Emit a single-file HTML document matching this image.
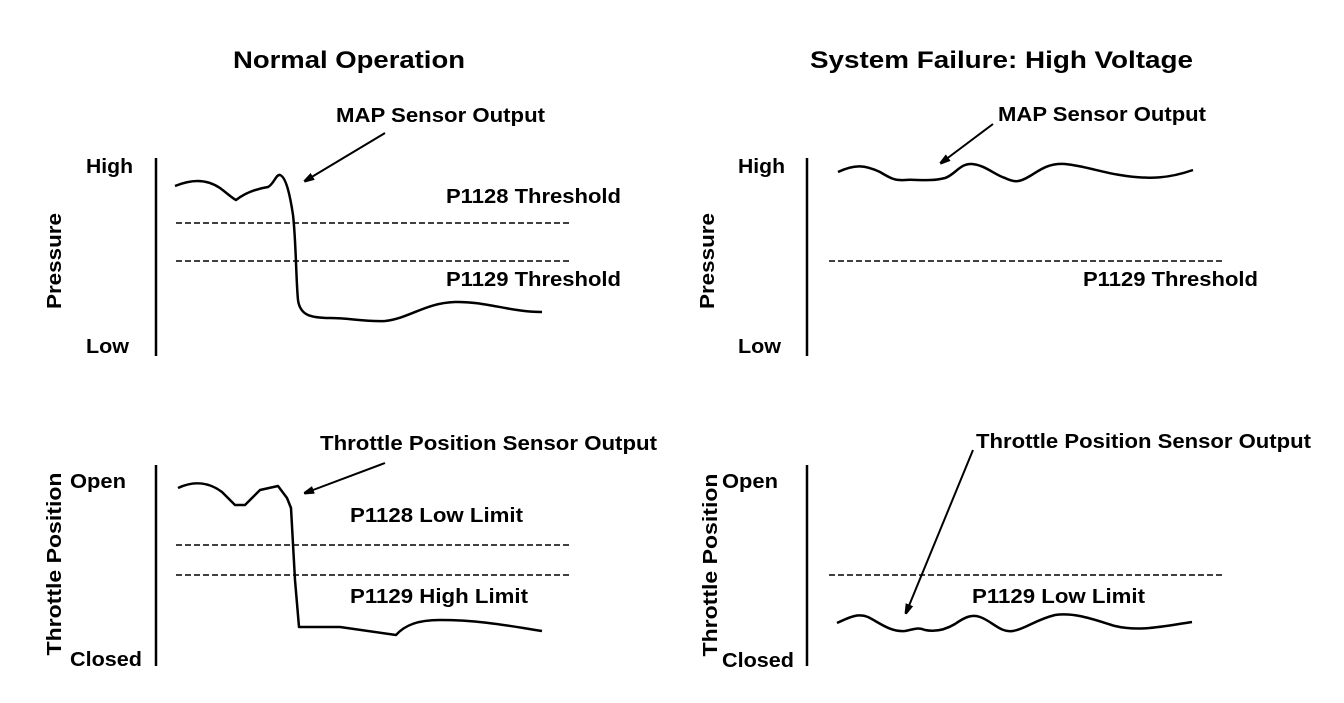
<!DOCTYPE html>
<html><head><meta charset="utf-8"><style>
html,body{margin:0;padding:0;background:#fff;}
svg text{font-family:"Liberation Sans",Arial,sans-serif;font-weight:bold;fill:#000;}
</style></head><body>
<svg width="1344" height="698" viewBox="0 0 1344 698" xmlns="http://www.w3.org/2000/svg">
<defs><marker id="ah" markerWidth="10" markerHeight="8" refX="9" refY="4" orient="auto" markerUnits="userSpaceOnUse"><path d="M0,0 L14,4 L0,8 Z" fill="#000"/></marker></defs>
<g font-size="24">
<text x="233" y="68" textLength="232" lengthAdjust="spacingAndGlyphs">Normal Operation</text>
<text x="810" y="68" textLength="383" lengthAdjust="spacingAndGlyphs">System Failure: High Voltage</text>
</g>
<g font-size="20">
<text x="86" y="173" textLength="47" lengthAdjust="spacingAndGlyphs">High</text>
<text x="86" y="353" textLength="43" lengthAdjust="spacingAndGlyphs">Low</text>
<text x="738" y="173" textLength="47" lengthAdjust="spacingAndGlyphs">High</text>
<text x="738" y="353" textLength="43" lengthAdjust="spacingAndGlyphs">Low</text>
<text x="70" y="488" textLength="56" lengthAdjust="spacingAndGlyphs">Open</text>
<text x="70" y="666" textLength="72" lengthAdjust="spacingAndGlyphs">Closed</text>
<text x="722" y="488" textLength="56" lengthAdjust="spacingAndGlyphs">Open</text>
<text x="722" y="667" textLength="72" lengthAdjust="spacingAndGlyphs">Closed</text>
<text x="336" y="122" textLength="209" lengthAdjust="spacingAndGlyphs">MAP Sensor Output</text>
<text x="998" y="121" textLength="208" lengthAdjust="spacingAndGlyphs">MAP Sensor Output</text>
<text x="320" y="450" textLength="337" lengthAdjust="spacingAndGlyphs">Throttle Position Sensor Output</text>
<text x="976" y="448" textLength="335" lengthAdjust="spacingAndGlyphs">Throttle Position Sensor Output</text>
<text x="446" y="203" textLength="175" lengthAdjust="spacingAndGlyphs">P1128 Threshold</text>
<text x="446" y="286" textLength="175" lengthAdjust="spacingAndGlyphs">P1129 Threshold</text>
<text x="1083" y="286" textLength="175" lengthAdjust="spacingAndGlyphs">P1129 Threshold</text>
<text x="350" y="522" textLength="173" lengthAdjust="spacingAndGlyphs">P1128 Low Limit</text>
<text x="350" y="603" textLength="178" lengthAdjust="spacingAndGlyphs">P1129 High Limit</text>
<text x="972" y="603" textLength="173" lengthAdjust="spacingAndGlyphs">P1129 Low Limit</text>
<text transform="translate(61,261) rotate(-90)" text-anchor="middle" textLength="96" lengthAdjust="spacingAndGlyphs">Pressure</text>
<text transform="translate(714,261) rotate(-90)" text-anchor="middle" textLength="96" lengthAdjust="spacingAndGlyphs">Pressure</text>
<text transform="translate(61,564) rotate(-90)" text-anchor="middle" textLength="183" lengthAdjust="spacingAndGlyphs">Throttle Position</text>
<text transform="translate(717,565) rotate(-90)" text-anchor="middle" textLength="183" lengthAdjust="spacingAndGlyphs">Throttle Position</text>
</g>
<g stroke="#000" stroke-width="2.5" fill="none">
<line x1="156" y1="158" x2="156" y2="356"/>
<line x1="807" y1="158" x2="807" y2="356"/>
<line x1="156" y1="465" x2="156" y2="666"/>
<line x1="807" y1="465" x2="807" y2="666"/>
</g>
<g stroke="#000" stroke-width="1.5" stroke-dasharray="6,3">
<line x1="176" y1="223" x2="572" y2="223"/>
<line x1="176" y1="261" x2="572" y2="261"/>
<line x1="176" y1="545" x2="572" y2="545"/>
<line x1="176" y1="575" x2="572" y2="575"/>
<line x1="829" y1="261" x2="1222" y2="261"/>
<line x1="829" y1="575" x2="1222" y2="575"/>
</g>
<g stroke="#000" stroke-width="2.5" fill="none" stroke-linejoin="round">
<path d="M175,186 C190,180 205,178 220,188 C228,194 232,198 236,200 C245,193 255,189 268,187 C274,184 276,174 280,175 C286,177 290,195 293,215 C296,240 296,280 298,300 C300,315 310,318 330,318 C350,318 365,322 385,321 C410,318 425,303 455,302 C485,301 510,312 542,312"/>
<path d="M178,488 C195,480 210,483 222,492 L235,505 L245,505 L260,490 L278,486 L287,498 L291,508 L295,580 L299,627 L340,627 L396,635 C405,625 418,620 440,620 C480,620 510,626 542,631"/>
<path d="M838,172 C855,164 865,165 880,172 C890,178 895,181 905,180 C915,179 930,182 945,178 C955,175 960,163 972,164 C985,165 995,175 1005,178 C1015,183 1020,182 1030,176 C1040,170 1048,163 1065,164 C1085,166 1100,172 1120,175 C1150,180 1170,178 1193,170"/>
<path d="M837,623 C850,617 858,613 868,617 C880,623 890,632 905,631 C915,629 918,627 925,630 C935,632 945,630 955,624 C965,617 972,614 980,617 C992,621 1000,633 1013,631 C1025,629 1035,620 1055,615 C1075,612 1095,620 1115,626 C1140,632 1165,626 1192,622"/>
</g>
<g stroke="#000" stroke-width="2" fill="none">
<line x1="385" y1="133" x2="305" y2="181" marker-end="url(#ah)"/>
<line x1="385" y1="463" x2="305" y2="493" marker-end="url(#ah)"/>
<line x1="993" y1="124" x2="941" y2="163" marker-end="url(#ah)"/>
<line x1="973" y1="450" x2="906" y2="613" marker-end="url(#ah)"/>
</g>
</svg>
</body></html>
